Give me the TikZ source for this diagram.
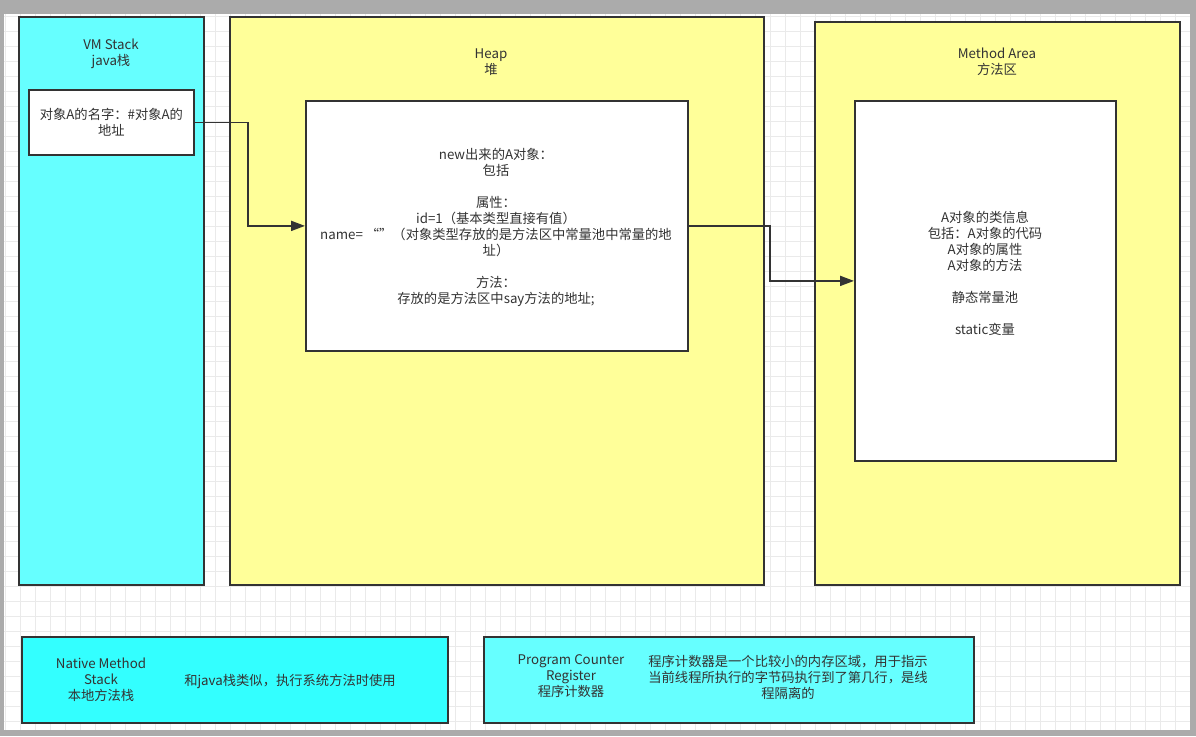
\documentclass[tikz,border=0pt]{standalone}
\usepackage{fontspec}
\setmainfont{Noto Sans CJK SC}
\usetikzlibrary{arrows.meta}
\definecolor{cyanA}{HTML}{66FFFF}
\definecolor{cyanB}{HTML}{33FFFF}
\definecolor{yelA}{HTML}{FFFF99}
\definecolor{ink}{HTML}{333333}
\definecolor{gridc}{HTML}{EAEAEA}
\definecolor{frame}{HTML}{ABABAB}
\tikzset{
  box/.style={draw=ink, line width=1.8pt, anchor=north west, inner sep=0pt},
  txt/.style={text=ink, font=\fontsize{13.3}{16}\selectfont, align=center, inner sep=0pt},
  conn/.style={draw=ink, line width=1.8pt, -{Triangle[length=14pt,width=10pt]}},
}
\begin{document}
\begin{tikzpicture}[x=1pt,y=-1pt]
\useasboundingbox (0,0) rectangle (1196,736);
% background and grid
\fill[white] (0,0) rectangle (1196,736);
\foreach \gx in {5,20,...,1190} { \draw[gridc, line width=0.8pt] (\gx,14) -- (\gx,730); }
\foreach \gy in {16.7,31.7,...,730} { \draw[gridc, line width=0.8pt] (4,\gy) -- (1190,\gy); }
\fill[frame] (0,0) rectangle (1196,14);
\fill[frame] (0,0) rectangle (4,736);
\fill[frame] (1190,0) rectangle (1196,736);
\fill[frame] (0,730) rectangle (1196,736);

% VM Stack
\node[box, fill=cyanA, minimum width=185pt, minimum height=568pt] (vm) at (18,16) {};
\node[txt] (vmlabel) at (111,54) {VM Stack\\java栈};
\node[box, fill=white, minimum width=165pt, minimum height=65pt, align=center, text=ink, font=\fontsize{13.3}{16}\selectfont] (vmbox) at (28,89) {对象A的名字：\#对象A的\\地址};

% Heap
\node[box, fill=yelA, minimum width=534pt, minimum height=568pt] (heap) at (229,16) {};
\node[txt] (heaplabel) at (491,62) {Heap\\堆};
\node[box, fill=white, minimum width=382pt, minimum height=250pt] (heapbox) at (305,100) {};
\node[txt] (heaptext) at (496,227) {new出来的A对象：\\包括\\[16pt]属性：\\id=1（基本类型直接有值）\\name=\ “”（对象类型存放的是方法区中常量池中常量的地\\址）\\[16pt]方法：\\存放的是方法区中say方法的地址;};

% Method Area
\node[box, fill=yelA, minimum width=365pt, minimum height=563pt] (ma) at (814,21) {};
\node[txt] (malabel) at (997,62) {Method Area\\方法区};
\node[box, fill=white, minimum width=261pt, minimum height=360pt] (mabox) at (854,100) {};
\node[txt] (matext) at (985,273) {A对象的类信息\\包括：A对象的代码\\A对象的属性\\A对象的方法\\[16pt]静态常量池\\[16pt]static变量};

% Native Method Stack
\node[box, fill=cyanB, minimum width=426pt, minimum height=86pt] (nms) at (21,636) {};
\node[txt] (nmslabel) at (101,680) {Native Method\\Stack\\本地方法栈};
\node[txt] (nmstext) at (290,681) {和java栈类似，执行系统方法时使用};

% Program Counter Register
\node[box, fill=cyanA, minimum width=490pt, minimum height=86pt] (pc) at (483,636) {};
\node[txt] (pclabel) at (571,676) {Program Counter\\Register\\程序计数器};
\node[txt] (pctext) at (788,677) {程序计数器是一个比较小的内存区域，用于指示\\当前线程所执行的字节码执行到了第几行，是线\\程隔离的};

% connectors
\coordinate (b1) at (248,0);
\coordinate (b2) at (770,0);
\draw[conn] (vmbox.east) -| (b1 |- heapbox.west) -- (heapbox.west);
\draw[conn] (heapbox.east) -| (b2 |- mabox.west) -- (mabox.west);
\end{tikzpicture}
\end{document}
